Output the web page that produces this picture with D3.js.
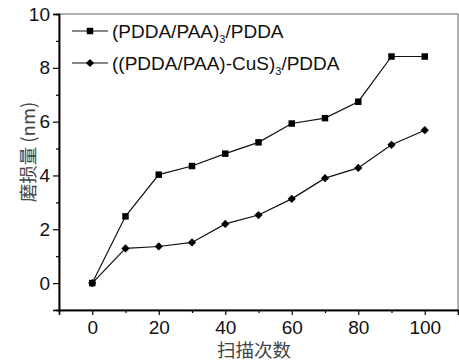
<!DOCTYPE html>
<html><head><meta charset="utf-8">
<script src="https://cdn.jsdelivr.net/npm/d3@7"></script>
<style>body{margin:0;background:#fff}svg{display:block}</style>
</head><body>
<svg id="c" width="459" height="364"></svg>
<script>
const scans = [0,10,20,30,40,50,60,70,80,90,100];
const seriesPAA = [0,2.48,4.03,4.35,4.81,5.23,5.93,6.13,6.74,8.42,8.42];
const seriesCuS = [0,1.29,1.36,1.51,2.2,2.53,3.13,3.9,4.28,5.14,5.68];
const xTicks = [0,20,40,60,80,100];
const yTicks = [0,2,4,6,8,10];
const xLabel = "扫描次数";
const yLabel = "磨损量 (nm)";

const svg = d3.select("#c");
const L=59,R=458,T=14,B=310;
const x = d3.scaleLinear().domain([-10,110]).range([L,R]);
const y = d3.scaleLinear().domain([-1,10]).range([B,T]);
const font = "'Liberation Sans', Arial, sans-serif";

// frame
svg.append("rect").attr("x",L).attr("y",T).attr("width",R-L).attr("height",B-T)
  .attr("fill","none").attr("stroke","#666").attr("stroke-width",1);

// axes
const gx = svg.append("g").attr("transform",`translate(0,${B})`)
  .call(d3.axisBottom(x).tickValues(xTicks).tickSize(5).tickPadding(5).tickFormat(d3.format("d")));
const gxm = svg.append("g").attr("transform",`translate(0,${B})`)
  .call(d3.axisBottom(x).tickValues([10,30,50,70,90]).tickSize(3).tickFormat(""));
const gy = svg.append("g").attr("transform",`translate(${L},0)`)
  .call(d3.axisLeft(y).tickValues(yTicks).tickSize(6).tickPadding(3).tickFormat(d3.format("d")));
const gym = svg.append("g").attr("transform",`translate(${L},0)`)
  .call(d3.axisLeft(y).tickValues([1,3,5,7,9]).tickSize(3).tickFormat(""));
[gx,gxm,gy,gym].forEach(g=>{
  g.select(".domain").attr("stroke","#000").attr("stroke-width",1.5);
  g.selectAll(".tick line").attr("stroke","#000").attr("stroke-width",1.2);
  g.selectAll("text").attr("font-family",font).attr("font-size",19).attr("fill","#111");
});
gx.selectAll("text").attr("dy","0.72em");

// lines
const line = d3.line().x((d,i)=>x(scans[i])).y(d=>y(d));
svg.append("path").datum(seriesPAA).attr("d",line).attr("fill","none").attr("stroke","#111").attr("stroke-width",1.2);
svg.append("path").datum(seriesCuS).attr("d",line).attr("fill","none").attr("stroke","#111").attr("stroke-width",1.2);

const sq = d3.symbol().type(d3.symbolSquare).size(42);
const dm = d3.symbol().type(d3.symbolSquare).size(34);
svg.append("g").selectAll("path").data(seriesPAA).join("path")
  .attr("d",sq).attr("transform",(d,i)=>`translate(${x(scans[i])},${y(d)})`).attr("fill","#000");
svg.append("g").selectAll("path").data(seriesCuS).join("path")
  .attr("d",dm).attr("transform",(d,i)=>`translate(${x(scans[i])},${y(d)}) rotate(45)`).attr("fill","#000");

// legend
const leg = [
  {sym:sq, rot:0, pre:"(PDDA/PAA)", sub:"3", post:"/PDDA", yy:31},
  {sym:dm, rot:45, pre:"((PDDA/PAA)-CuS)", sub:"3", post:"/PDDA", yy:63}
];
leg.forEach(l=>{
  svg.append("line").attr("x1",72).attr("x2",108).attr("y1",l.yy).attr("y2",l.yy).attr("stroke","#111").attr("stroke-width",1.2);
  svg.append("path").attr("d",l.sym).attr("transform",`translate(90,${l.yy}) rotate(${l.rot})`).attr("fill","#000");
  const t = svg.append("text").attr("x",112).attr("y",l.yy+6.5).attr("font-family",font).attr("font-size",19).attr("fill","#111");
  t.append("tspan").text(l.pre);
  t.append("tspan").text(l.sub).attr("font-size",11).attr("dy",5);
  t.append("tspan").text(l.post).attr("dy",-5);
});

// axis labels
svg.append("text").attr("x",254).attr("y",357).attr("text-anchor","middle")
  .attr("font-family","'Noto Sans CJK SC', sans-serif").attr("font-size",18.5).attr("fill","#444").text(xLabel);
svg.append("text").attr("transform","translate(27,152) rotate(-90)").attr("text-anchor","middle")
  .attr("dominant-baseline","central")
  .attr("font-family","'Noto Sans CJK SC', sans-serif").attr("font-size",18.5).attr("fill","#444").text(yLabel);
</script>
</body></html>
